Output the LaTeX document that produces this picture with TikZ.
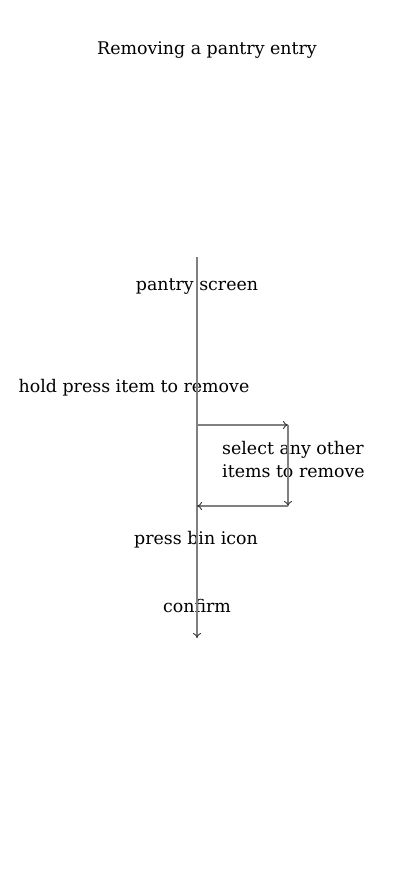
\documentclass[tikz,border=0pt]{standalone}
\usepackage{fontspec}
\setmainfont{DejaVu Serif}
\usepackage{tikz}
\usetikzlibrary{arrows.meta, positioning}

\begin{document}
\begin{tikzpicture}[x=1pt, y=-1pt,
            lbl/.style={font=\fontsize{17.4}{23}\selectfont, inner sep=0pt, align=left},
            flow/.style={draw=black!50, line width=1.4pt},
            tip/.style={-{To[length=5pt, width=8pt, line width=0.9pt, color=black!80]}}]

            \useasboundingbox (0,0) rectangle (414,896);

            \node[lbl] (title) at (207,50) {Removing a pantry entry};
            \coordinate (top) at (197,257);
            \node[lbl] (screen) at (197,287) {pantry screen};
            \node[lbl] (hold) at (134,388) {hold press item to remove};
            \coordinate (outA) at (197,425);
            \coordinate (cornA) at (288,425);
            \coordinate (cornB) at (288,506);
            \coordinate (backB) at (197,506);
            \node[lbl, anchor=west] (other) at (222,460) {select any other\\items to remove};
            \node[lbl] (bin) at (196,540) {press bin icon};
            \node[lbl] (confirm) at (197,606) {confirm};
            \coordinate (bottom) at (197,638);

            % main line
            \draw[flow, tip] (top) -- (bottom);
            % loop for more items
            \draw[flow, tip] (outA) -- (cornA);
            \draw[flow, tip] (cornA) -- (cornB);
            \draw[flow, tip] (cornB) -- (backB);
        \end{tikzpicture}
\end{document}
